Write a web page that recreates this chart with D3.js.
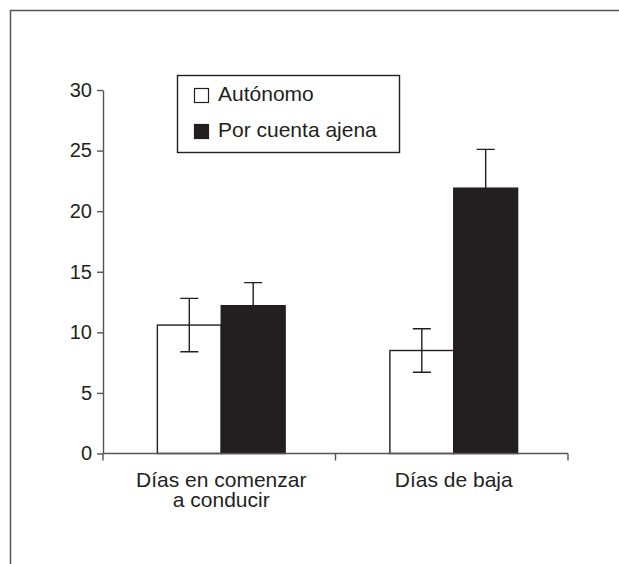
<!DOCTYPE html>
<html lang="es">
<head>
    <meta charset="UTF-8">
    <title>Días en comenzar a conducir / Días de baja</title>
    <script src="https://d3js.org/d3.v7.min.js"></script>
    <style>
        body {
            margin: 0;
            background: #fff;
        }
        svg text {
            font-family: "Liberation Sans", Arial, Helvetica, sans-serif;
            fill: #231f20;
        }
    </style>
</head>
<body>
    <script>
        // data
        const categories = [["Días en comenzar", "a conducir"], ["Días de baja"]];
        const series = ["Autónomo", "Por cuenta ajena"];
        const autonomo = [10.6, 8.5];
        const autonomoErr = [2.2, 1.8];
        const ajena = [12.2, 21.9];
        const ajenaErr = [1.9, 3.2];
        const yTicks = [0, 5, 10, 15, 20, 25, 30];

        (function() {
            const width = 619;
            const height = 564;
            const ink = "#231f20";
            const grey = "#555";

            const svg = d3.select("body").append("svg")
                .attr("width", width)
                .attr("height", height);

            // frame (top and left only)
            svg.append("path")
                .attr("d", `M10.5,${height}V10.5H${width}`)
                .attr("fill", "none")
                .attr("stroke", grey)
                .attr("stroke-width", 1.5);

            const plotLeft = 103, plotRight = 568, plotTop = 90, plotBottom = 453.5;

            const y = d3.scaleLinear().domain([0, 30]).range([plotBottom, plotTop]);
            const x0 = d3.scaleBand().domain(d3.range(categories.length)).range([plotLeft, plotRight]).padding(0);
            const x1 = d3.scaleBand().domain(series).range([0, x0.bandwidth()])
                .paddingInner(0).paddingOuter(0.82);

            const rows = categories.map((c, i) => ({
                i: i,
                bars: [
                    { s: series[0], v: autonomo[i], e: autonomoErr[i], fill: "#fff" },
                    { s: series[1], v: ajena[i], e: ajenaErr[i], fill: ink }
                ]
            }));

            // error bars drawn first, bars on top (white bars are see-through)
            const groups = svg.append("g").selectAll("g.grp").data(rows).enter().append("g")
                .attr("class", "grp")
                .attr("transform", d => `translate(${x0(d.i) + 2},0)`);

            const cap = 9;
            groups.selectAll("path.err").data(d => d.bars).enter().append("path")
                .attr("class", "err")
                .attr("fill", "none")
                .attr("stroke", ink)
                .attr("stroke-width", 1.4)
                .attr("d", d => {
                    const cx = x1(d.s) + x1.bandwidth() / 2;
                    const hi = y(d.v + d.e), lo = y(d.v - d.e);
                    return `M${cx - cap},${hi}H${cx + cap}M${cx},${hi}V${lo}M${cx - cap},${lo}H${cx + cap}`;
                });

            groups.selectAll("rect").data(d => d.bars).enter().append("rect")
                .attr("x", d => x1(d.s))
                .attr("width", x1.bandwidth())
                .attr("y", d => y(d.v))
                .attr("height", d => y(0) - y(d.v))
                .attr("fill", d => d.fill)
                .attr("fill-opacity", d => d.fill === "#fff" ? 0 : 1)
                .attr("stroke", ink)
                .attr("stroke-width", 1.4);

            // y axis
            const yAxis = svg.append("g")
                .attr("transform", `translate(${plotLeft},0)`)
                .call(d3.axisLeft(y).tickValues(yTicks).tickSize(6).tickSizeOuter(0).tickPadding(5));
            yAxis.select(".domain").attr("stroke", grey).attr("stroke-width", 1.4);
            yAxis.selectAll(".tick line").attr("stroke", grey).attr("stroke-width", 1.4);
            yAxis.selectAll(".tick text")
                .style("font-family", '"Liberation Sans", Arial, sans-serif')
                .attr("font-size", 20)
                .attr("fill", ink);

            // x axis: line with ticks at band edges
            const edges = x0.domain().map(d => x0(d)).concat([plotRight]);
            const xAxis = svg.append("g");
            xAxis.append("path")
                .attr("d", `M${plotLeft},${plotBottom}H${plotRight}`)
                .attr("stroke", grey)
                .attr("stroke-width", 1.4);
            xAxis.selectAll("line").data(edges).enter().append("line")
                .attr("x1", d => d).attr("x2", d => d)
                .attr("y1", plotBottom).attr("y2", plotBottom + 7)
                .attr("stroke", grey)
                .attr("stroke-width", 1.4);

            const labels = xAxis.selectAll("text").data(categories).enter().append("text")
                .attr("x", (d, i) => x0(i) + x0.bandwidth() / 2 + 2)
                .attr("y", 487)
                .attr("text-anchor", "middle")
                .attr("font-size", 21);
            labels.selectAll("tspan").data(d => d).enter().append("tspan")
                .attr("x", function() { return this.parentNode.getAttribute("x"); })
                .attr("dy", (d, i) => i === 0 ? 0 : 19.5)
                .text(d => d);

            // legend
            const legend = svg.append("g");
            legend.append("rect")
                .attr("x", 177.5).attr("y", 75.5)
                .attr("width", 222).attr("height", 77)
                .attr("fill", "#fff")
                .attr("stroke", ink)
                .attr("stroke-width", 1.4);
            const items = legend.selectAll("g.item").data(series).enter().append("g")
                .attr("class", "item")
                .attr("transform", (d, i) => `translate(194,${88 + i * 36})`);
            items.append("rect")
                .attr("x", 0.5).attr("y", 0.5)
                .attr("width", 14).attr("height", 14)
                .attr("fill", (d, i) => i === 0 ? "#fff" : ink)
                .attr("stroke", ink)
                .attr("stroke-width", 1.2);
            items.append("text")
                .attr("x", 24)
                .attr("y", 13)
                .attr("font-size", 21)
                .text(d => d);
        })();
    </script>
</body>
</html>
